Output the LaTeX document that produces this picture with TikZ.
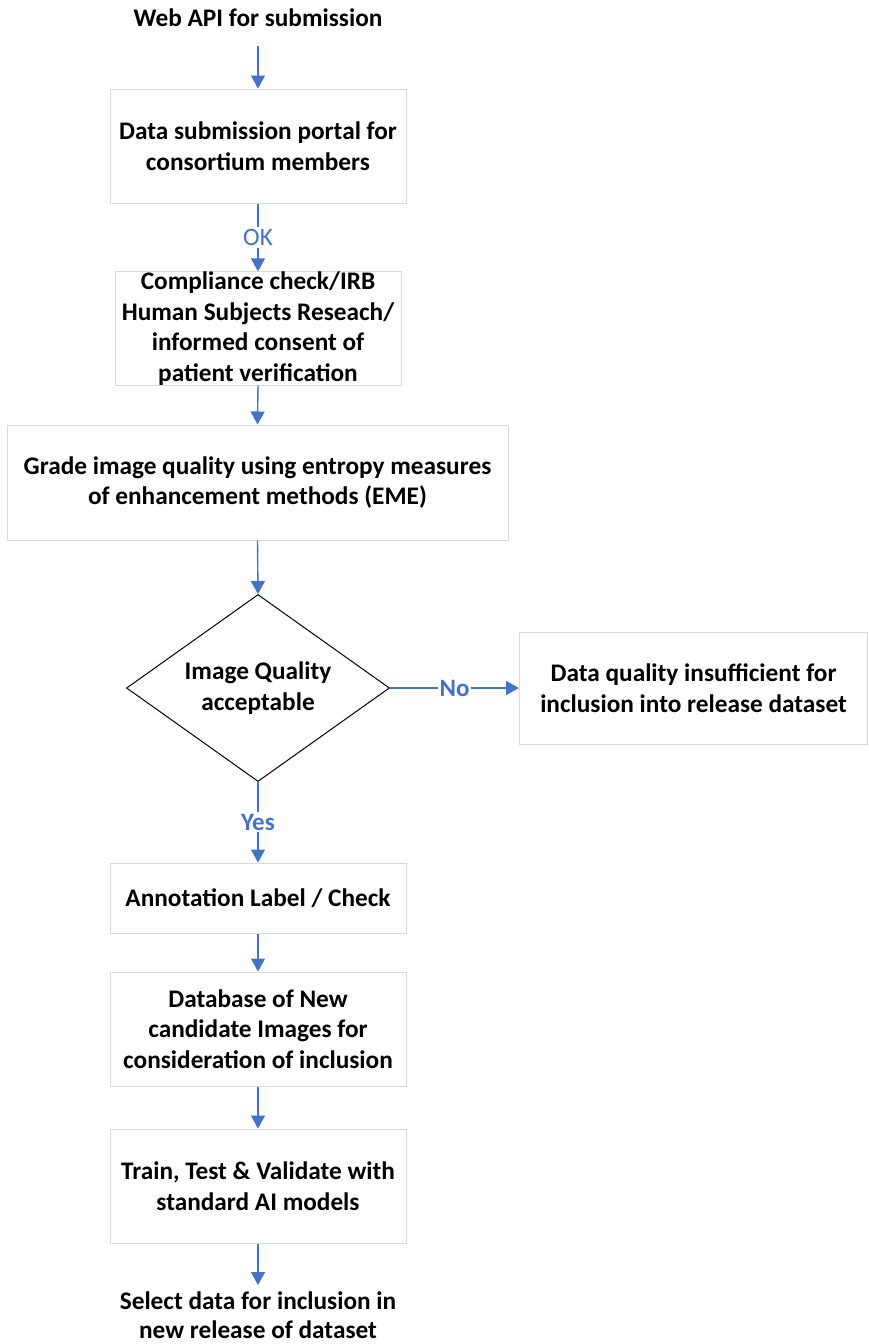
\documentclass[tikz,border=0pt]{standalone}
\usepackage{fontspec}
\setmainfont{Carlito}
\usetikzlibrary{shapes.geometric,arrows.meta}
\definecolor{oblue}{HTML}{4472C4}
\definecolor{bgray}{HTML}{D9D9D9}
\tikzset{
  txt/.style={font=\fontsize{25.3}{30.5}\selectfont\bfseries, align=center, text=black, inner sep=0pt},
  box/.style={txt, draw=bgray, line width=1pt, rectangle},
  dia/.style={draw=black, line width=1pt, diamond, inner sep=0pt},
  arr/.style={draw=oblue, line width=1.4pt, -{Triangle[length=13pt,width=14pt]}},
  lbl/.style={font=\fontsize{25}{28}\selectfont, text=oblue, fill=white, inner sep=2pt},
  blbl/.style={lbl, font=\fontsize{25}{28}\selectfont\bfseries},
}
\begin{document}
\begin{tikzpicture}[x=1pt,y=-1pt]
\useasboundingbox (0,0) rectangle (868,1344);
\node[txt] (web) at (258,18) {Web API for submission};
\node[box, minimum width=296pt, minimum height=114pt] (b1) at (258,146) {Data submission portal for\\consortium members};
\node[box, minimum width=286pt, minimum height=113pt] (b2) at (258,328.5) {Compliance check/IRB\\Human Subjects Reseach/\\informed consent of\\patient verification};
\node[box, minimum width=501pt, minimum height=115pt] (b3) at (257.5,482.5) {Grade image quality using entropy measures\\of enhancement methods (EME)};
\node[dia, minimum width=263pt, minimum height=187pt, label={[txt]center:Image Quality\\acceptable}] (d) at (258,688) {};
\node[box, minimum width=348pt, minimum height=112pt] (r) at (693.5,688) {Data quality insufficient for\\inclusion into release dataset};
\node[box, minimum width=296pt, minimum height=70pt] (b4) at (258,898) {Annotation Label / Check};
\node[box, minimum width=296pt, minimum height=114pt] (b5) at (258,1029) {Database of New\\candidate Images for\\consideration of inclusion};
\node[box, minimum width=296pt, minimum height=114pt] (b6) at (258,1186) {Train, Test \& Validate with\\standard AI models};
\node[txt, font=\fontsize{25.3}{29}\selectfont\bfseries] (fin) at (258,1315.5) {Select data for inclusion in\\new release of dataset};
\coordinate (webout) at (258,46);
\coordinate (finin) at (258,1285);
\draw[arr] (webout) -- (b1.north);
\draw[arr] (b1.south) -- node[lbl] {OK} (b2.north);
\draw[arr] (b2.south) -- (b3.north);
\draw[arr] (b3.south) -- (d.north);
\draw[arr] (d.east) -- node[blbl] {No} (r.west);
\draw[arr] (d.south) -- node[blbl] {Yes} (b4.north);
\draw[arr] (b4.south) -- (b5.north);
\draw[arr] (b5.south) -- (b6.north);
\draw[arr] (b6.south) -- (finin);
\end{tikzpicture}
\end{document}
